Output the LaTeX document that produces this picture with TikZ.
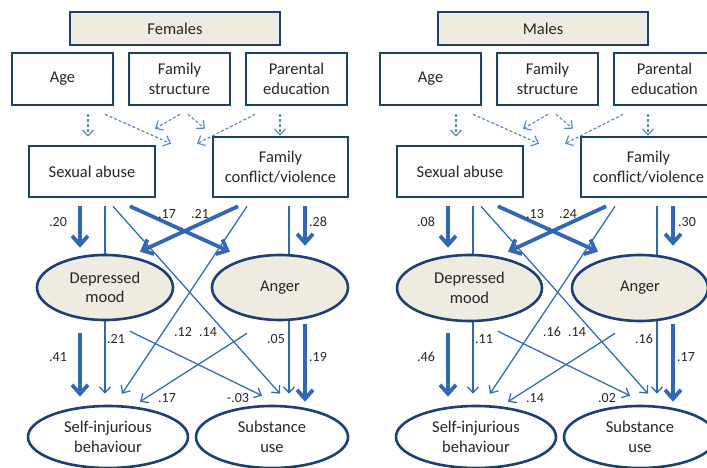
\documentclass[tikz,border=0pt]{standalone}
\usepackage{fontspec}
\setmainfont{Carlito}
\usetikzlibrary{arrows.meta,shapes.geometric,calc}
\definecolor{navy}{HTML}{1F3F72}
\definecolor{arrowblue}{HTML}{3366B3}
\definecolor{dashblue}{HTML}{5B8AD0}
\definecolor{beige}{HTML}{EEEBE0}
\definecolor{txt}{HTML}{262626}
\pgfdeclarelayer{background}
\pgfsetlayers{background,main}
\begin{document}
\begin{tikzpicture}[x=1pt,y=-1pt,
 box/.style={draw=navy,line width=2.6pt,rectangle,inner sep=0pt,align=center,text=txt,font=\fontsize{16.5}{19.5}\selectfont},
 ell/.style={draw=navy,line width=2.6pt,ellipse,inner sep=0pt,align=center,text=txt,font=\fontsize{16.5}{19.5}\selectfont},
 small/.style={minimum width=101pt,minimum height=52pt},
 coef/.style={font=\fontsize{14}{16}\selectfont,text=txt,inner sep=0pt},
 thickarr/.style={draw=arrowblue,line width=3.8pt,-{Straight Barb[length=9pt,width=16pt]}},
 thinarr/.style={draw=arrowblue,line width=1.25pt,-{Straight Barb[length=6pt,width=11pt]}},
 dasharr/.style={draw=dashblue,line width=1.2pt,dash pattern=on 3pt off 2pt,-{Straight Barb[length=6pt,width=11pt]}}]
\useasboundingbox (0,0) rectangle (707,468);
\clip (0,0) rectangle (707,468);
% ---------------- Females ----------------
\node[box,fill=beige,minimum width=210pt,minimum height=33pt] (ftitle) at (175,28.5) {Females};
\node[box,small] (fage) at (62.5,79) {Age};
\node[box,small] (ffs) at (179.5,79) {Family\\structure};
\node[box,small] (fpe) at (296.5,79) {Parental\\education};
\node[box,minimum width=126pt,minimum height=51pt] (fsex) at (92,171.5) {Sexual abuse};
\node[box,minimum width=135pt,minimum height=60pt] (ffam) at (280.5,167) {Family\\conflict/violence};
\node[ell,fill=beige,minimum width=136pt,minimum height=65pt] (fdep) at (105,287.5) {Depressed\\mood};
\node[ell,fill=beige,minimum width=136pt,minimum height=65pt] (fang) at (280,287.5) {Anger};
\node[ell,fill=white,minimum width=160pt,minimum height=62pt] (fself) at (108,437) {Self-injurious\\behaviour};
\node[ell,fill=white,minimum width=152pt,minimum height=62pt] (fsub) at (272,437) {Substance\\use};
\node[coef] (fc1) at (58,222) {.20};
\node[coef] (fc2) at (167,214) {.17};
\node[coef] (fc3) at (200,214) {.21};
\node[coef] (fc4) at (318,222) {.28};
\node[coef] (fc5) at (116,339) {.21};
\node[coef] (fc6) at (183,332) {.12};
\node[coef] (fc7) at (208,332) {.14};
\node[coef] (fc8) at (276,339) {.05};
\node[coef] (fc9) at (58,357) {.41};
\node[coef] (fc10) at (318,357) {.19};
\node[coef] (fc11) at (167,398) {.17};
\node[coef] (fc12) at (238,398) {-.03};
\begin{pgfonlayer}{background}
\draw[dasharr] ($(fage.south)+(25.5,8)$) -- ($(fsex.north)+(-4,-8)$);
\draw[dasharr] ($(fage.south)+(42.5,8)$) -- ($(fsex.north)+(79,-1)$);
\draw[dasharr] ($(ffs.south)+(0.5,8)$) -- ($(fsex.north)+(63,-16)$);
\draw[dasharr] ($(ffs.south)+(8.5,8)$) -- ($(ffam.north)+(-75.5,-7)$);
\draw[dasharr] ($(fpe.south)+(-41.5,8)$) -- ($(ffam.north)+(-83.5,8)$);
\draw[dasharr] ($(fpe.south)+(-16.5,8)$) -- ($(ffam.north)+(-0.5,0)$);
\draw[thickarr] ($(fsex.south)+(-12,8)$) -- ($(fdep.north)+(-25,-6)$);
\draw[thinarr] ($(fsex.south)+(13,8)$) -- ($(fself.north)+(-3,-11)$);
\draw[thinarr] ($(fsex.south)+(21,8)$) -- ($(fsub.north)+(8,-11)$);
\draw[thickarr] ($(fsex.south)+(38,8)$) -- ($(fang.north)+(-50,-2)$);
\draw[thickarr] ($(ffam.south)+(-42.5,8)$) -- ($(fdep.north)+(35,-2)$);
\draw[thinarr] ($(ffam.south)+(-33.5,8)$) -- ($(fself.north)+(14,-11)$);
\draw[thinarr] ($(ffam.south)+(8.5,8)$) -- ($(fsub.north)+(17,-11)$);
\draw[thickarr] ($(ffam.south)+(24.5,8)$) -- ($(fang.north)+(25,-8)$);
\draw[thickarr] ($(fdep.south)+(-25,12)$) -- ($(fself.north)+(-28,-8)$);
\draw[thinarr] ($(fdep.south)+(25,10)$) -- ($(fsub.north)+(-10,-9)$);
\draw[thinarr] ($(fang.south)+(-33,12)$) -- ($(fself.north)+(32,-3)$);
\draw[thickarr] ($(fang.south)+(25,3)$) -- ($(fsub.north)+(33,-3)$);
\end{pgfonlayer}
% ---------------- Males ----------------
\node[box,fill=beige,minimum width=210pt,minimum height=33pt] (mtitle) at (543,28.5) {Males};
\node[box,small] (mage) at (430.5,79) {Age};
\node[box,small] (mfs) at (547.5,79) {Family\\structure};
\node[box,small] (mpe) at (664.5,79) {Parental\\education};
\node[box,minimum width=126pt,minimum height=51pt] (msex) at (460,171.5) {Sexual abuse};
\node[box,minimum width=135pt,minimum height=60pt] (mfam) at (648.5,167) {Family\\conflict/violence};
\node[ell,fill=beige,minimum width=145pt,minimum height=66pt] (mdep) at (469.5,288) {Depressed\\mood};
\node[ell,fill=beige,minimum width=136pt,minimum height=66pt] (mang) at (640,288) {Anger};
\node[ell,fill=white,minimum width=160pt,minimum height=62pt] (mself) at (476,437) {Self-injurious\\behaviour};
\node[ell,fill=white,minimum width=152pt,minimum height=62pt] (msub) at (640,437) {Substance\\use};
\node[coef] (mc1) at (426,222) {.08};
\node[coef] (mc2) at (535,214) {.13};
\node[coef] (mc3) at (568,214) {.24};
\node[coef] (mc4) at (687,222) {.30};
\node[coef] (mc5) at (484,339) {.11};
\node[coef] (mc6) at (552,332) {.16};
\node[coef] (mc7) at (577,332) {.14};
\node[coef] (mc8) at (644,339) {.16};
\node[coef] (mc9) at (426,357) {.46};
\node[coef] (mc10) at (686,357) {.17};
\node[coef] (mc11) at (535,398) {.14};
\node[coef] (mc12) at (607,398) {.02};
\begin{pgfonlayer}{background}
\draw[dasharr] ($(mage.south)+(25.5,8)$) -- ($(msex.north)+(-4,-8)$);
\draw[dasharr] ($(mage.south)+(42.5,8)$) -- ($(msex.north)+(79,-1)$);
\draw[dasharr] ($(mfs.south)+(0.5,8)$) -- ($(msex.north)+(63,-16)$);
\draw[dasharr] ($(mfs.south)+(8.5,8)$) -- ($(mfam.north)+(-75.5,-7)$);
\draw[dasharr] ($(mpe.south)+(-41.5,8)$) -- ($(mfam.north)+(-83.5,8)$);
\draw[dasharr] ($(mpe.south)+(-16.5,8)$) -- ($(mfam.north)+(-0.5,0)$);
\draw[thickarr] ($(msex.south)+(-12,8)$) -- ($(mdep.north)+(-21.5,-6)$);
\draw[thinarr] ($(msex.south)+(13,8)$) -- ($(mself.north)+(-3,-11)$);
\draw[thinarr] ($(msex.south)+(21,8)$) -- ($(msub.north)+(8,-11)$);
\draw[thickarr] ($(msex.south)+(38,8)$) -- ($(mang.north)+(-42,-2)$);
\draw[thickarr] ($(mfam.south)+(-42.5,8)$) -- ($(mdep.north)+(38.5,-2)$);
\draw[thinarr] ($(mfam.south)+(-33.5,8)$) -- ($(mself.north)+(14,-11)$);
\draw[thinarr] ($(mfam.south)+(8.5,8)$) -- ($(msub.north)+(17,-11)$);
\draw[thickarr] ($(mfam.south)+(24.5,8)$) -- ($(mang.north)+(33,-8)$);
\draw[thickarr] ($(mdep.south)+(-21.5,11)$) -- ($(mself.north)+(-28,-8)$);
\draw[thinarr] ($(mdep.south)+(28.5,9)$) -- ($(msub.north)+(-10,-9)$);
\draw[thinarr] ($(mang.south)+(-25,11)$) -- ($(mself.north)+(32,-3)$);
\draw[thickarr] ($(mang.south)+(33,2)$) -- ($(msub.north)+(33,-3)$);
\end{pgfonlayer}
\end{tikzpicture}
\end{document}
